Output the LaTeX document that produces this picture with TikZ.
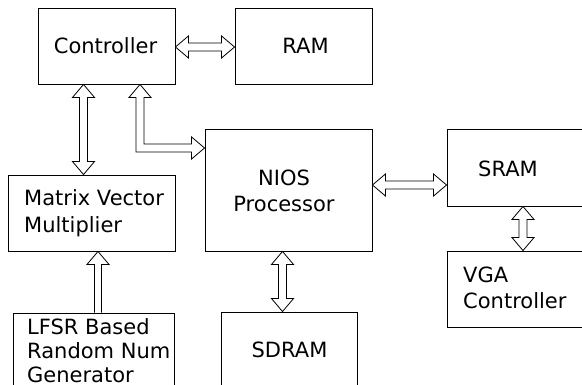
\documentclass[tikz,border=0pt]{standalone}
\usepackage{fontspec}
\setmainfont{DejaVu Sans}
\usetikzlibrary{calc}

% hollow bus arrows between two anchors
\newcommand{\vbus}[2]{%
  \draw[bus] let \p1=#1, \p2=#2 in
    (\x1,\y1) -- (\x1+11pt,\y1-13pt) -- (\x1+4pt,\y1-13pt)
    -- (\x1+4pt,\y2+13pt) -- (\x1+11pt,\y2+13pt) -- (\x1,\y2)
    -- (\x1-11pt,\y2+13pt) -- (\x1-4pt,\y2+13pt)
    -- (\x1-4pt,\y1-13pt) -- (\x1-11pt,\y1-13pt) -- cycle;}
\newcommand{\hbus}[2]{%
  \draw[bus] let \p1=#1, \p2=#2 in
    (\x1,\y1) -- (\x1+13pt,\y1+11pt) -- (\x1+13pt,\y1+4pt)
    -- (\x2-13pt,\y1+4pt) -- (\x2-13pt,\y1+11pt) -- (\x2,\y1)
    -- (\x2-13pt,\y1-11pt) -- (\x2-13pt,\y1-4pt)
    -- (\x1+13pt,\y1-4pt) -- (\x1+13pt,\y1-11pt) -- cycle;}
\newcommand{\elbus}[2]{%
  \draw[bus] let \p1=#1, \p2=#2 in
    (\x1,\y1) -- (\x1+11pt,\y1-13pt) -- (\x1+4pt,\y1-13pt)
    -- (\x1+4pt,\y2+4pt) -- (\x2-13pt,\y2+4pt) -- (\x2-13pt,\y2+11pt)
    -- (\x2,\y2) -- (\x2-13pt,\y2-11pt) -- (\x2-13pt,\y2-4pt)
    -- (\x1-4pt,\y2-4pt) -- (\x1-4pt,\y1-13pt) -- (\x1-11pt,\y1-13pt) -- cycle;}
\newcommand{\upbus}[2]{%
  \draw[bus] let \p1=#1, \p2=#2 in
    (\x1-3.5pt,\y1) -- (\x1-3.5pt,\y2-13pt) -- (\x1-11pt,\y2-13pt) -- (\x1,\y2)
    -- (\x1+11pt,\y2-13pt) -- (\x1+3.5pt,\y2-13pt) -- (\x1+3.5pt,\y1);}

\begin{document}
\begin{tikzpicture}[x=1pt,y=-1pt,
    block/.style={draw,line width=0.9pt,inner sep=0pt},
    lbl/.style={font=\fontsize{21}{26.5}\selectfont,inner sep=0pt},
    bus/.style={draw,fill=white,line width=0.8pt}]
  \clip (0,0) rectangle (582,385);

  % boxes: name/x/y/width/height
  \foreach \name/\x/\y/\w/\h in {
      ctrl/106.5/46/137/76, ram/303.5/46/137/76,
      mvm/91.5/213/167/76, nios/288.5/190/167/122,
      sram/522/167.5/150/77, vga/522/289/150/76,
      sdram/289/350/136/76, lfsr/93.5/351/161/76}{
    \node[block,minimum width=\w pt,minimum height=\h pt] (\name) at (\x,\y) {};
  }

  % texts
  \foreach \name/\x/\y/\anc/\al/\txt in {
      ctrl/105.5/46/center/center/{Controller},
      ram/305.5/46/center/center/{RAM},
      mvm/24/213/west/left/{Matrix Vector\\Multiplier},
      nios/284/191/center/center/{NIOS\\Processor},
      sram/478/169/west/left/{SRAM},
      vga/463/288/west/left/{VGA\\Controller},
      sdram/289.5/350/center/center/{SDRAM}}{
    \node[lbl,anchor=\anc,align=\al] (\name txt) at (\x,\y) {\txt};
  }
  \node[lbl,anchor=west,align=left,
        font=\fontsize{21}{24}\selectfont] (lfsrtxt) at (27,351)
    {LFSR Based\\Random Num\\Generator};

  \hbus{([yshift=-1pt]ctrl.east)}{(ram.west)}
  \vbus{([xshift=-23pt]ctrl.south)}{(mvm.north)}
  \elbus{([xshift=33.5pt]ctrl.south)}{([yshift=42pt]nios.west)}
  \hbus{([yshift=5pt]nios.east)}{(sram.west)}
  \vbus{([xshift=1pt]sram.south)}{(vga.north)}
  \vbus{([xshift=-6pt]nios.south)}{(sdram.north)}
  \upbus{([xshift=4.5pt]lfsr.north)}{(mvm.south)}
\end{tikzpicture}
\end{document}
